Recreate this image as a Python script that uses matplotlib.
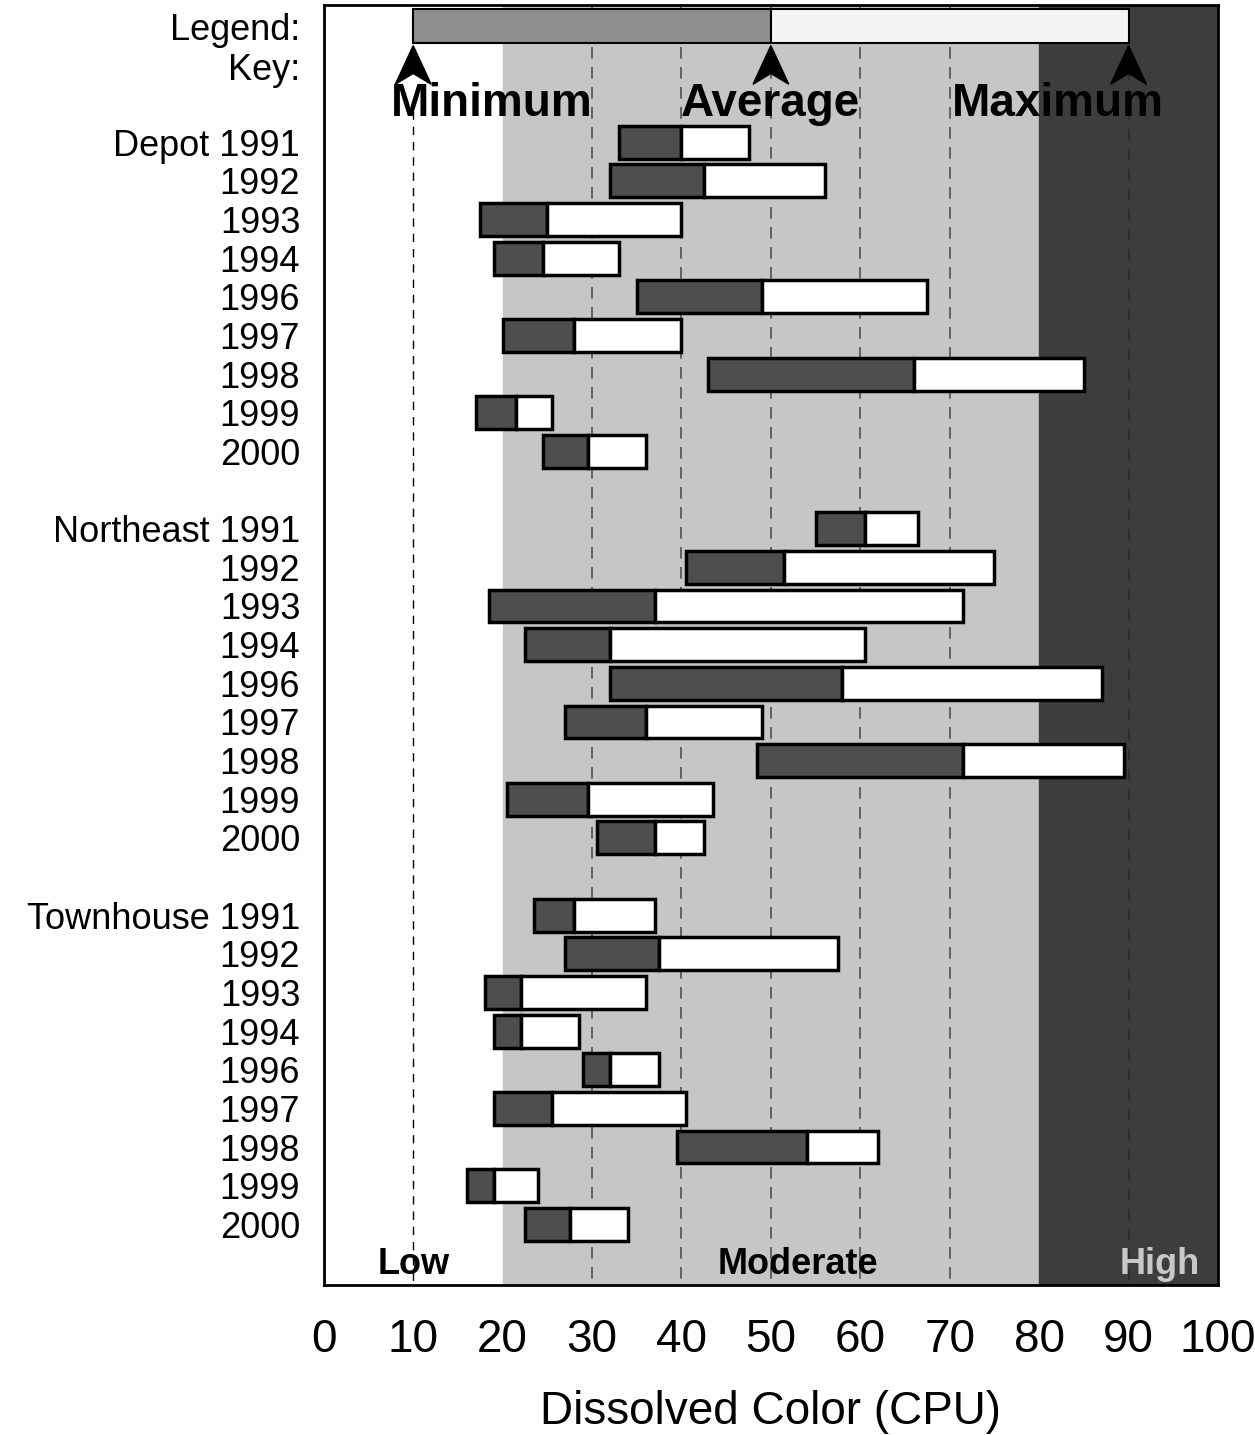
import numpy as np
import matplotlib.pyplot as plt
from matplotlib.patches import Polygon

plt.rcParams['font.family'] = ['Liberation Sans', 'DejaVu Sans']

# Dissolved colour (CPU) by site and year: minimum, average, maximum
sites = ["Depot", "Northeast", "Townhouse"]
years = ["1991", "1992", "1993", "1994", "1996", "1997", "1998", "1999", "2000"]

depot_min = [33, 32, 17.5, 19, 35, 20, 43, 17, 24.5]
depot_avg = [40, 42.5, 25, 24.5, 49, 28, 66, 21.5, 29.5]
depot_max = [47.5, 56, 40, 33, 67.5, 40, 85, 25.5, 36]

northeast_min = [55, 40.5, 18.5, 22.5, 32, 27, 48.5, 20.5, 30.5]
northeast_avg = [60.5, 51.5, 37, 32, 58, 36, 71.5, 29.5, 37]
northeast_max = [66.5, 75, 71.5, 60.5, 87, 49, 89.5, 43.5, 42.5]

townhouse_min = [23.5, 27, 18, 19, 29, 19, 39.5, 16, 22.5]
townhouse_avg = [28, 37.5, 22, 22, 32, 25.5, 54, 19, 27.5]
townhouse_max = [37, 57.5, 36, 28.5, 37.5, 40.5, 62, 24, 34]

# legend bar
key_min, key_avg, key_max = 10, 50, 90

zones = [(0, 20, "Low"), (20, 80, "Moderate"), (80, 100, "High")]

mins = [depot_min, northeast_min, townhouse_min]
avgs = [depot_avg, northeast_avg, townhouse_avg]
maxs = [depot_max, northeast_max, townhouse_max]

fig = plt.figure(figsize=(12.55, 14.35), dpi=100)
ax = fig.add_axes([0.258, 0.1045, 0.7125, 0.892])

# background zones
zone_colors = ["white", "#c6c6c6", "#3d3d3d"]
for (a, b, name), c in zip(zones, zone_colors):
    ax.axvspan(a, b, color=c, zorder=0)

ax.vlines(10, -0.8, 29.6, colors="black", lw=1, linestyles=(0, (6, 5)), zorder=1)
ax.vlines([30, 40, 50, 60, 70], -3.5, 29.6, colors="#505050", lw=1.2,
          linestyles=(0, (7, 5)), zorder=1)
ax.vlines(90, -2.4, 29.6, colors="#2a2a2a", lw=1.2, linestyles=(0, (7, 5)), zorder=1)

dark = "#4e4e4e"
h = 0.85
ypos, ylabels = [], []
for g, site in enumerate(sites):
    y = np.arange(len(years)) + g * 10
    lo, av, hi = np.array(mins[g]), np.array(avgs[g]), np.array(maxs[g])
    ax.barh(y, av - lo, left=lo, height=h, color=dark, edgecolor="black", lw=2.5, zorder=3)
    ax.barh(y, hi - av, left=av, height=h, color="white", edgecolor="black", lw=2.5, zorder=3)
    ypos += list(y)
    ylabels += [site + " " + years[0]] + years[1:]

# legend / key
ax.barh(-3, key_avg - key_min, left=key_min, height=0.88, color="#8e8e8e",
        edgecolor="black", lw=1.5, zorder=3)
ax.barh(-3, key_max - key_avg, left=key_avg, height=0.88, color="#f4f4f4",
        edgecolor="black", lw=1.5, zorder=3)
for x in (key_min, key_avg, key_max):
    head = [(x, -2.5), (x - 2.0, -1.5), (x, -1.78), (x + 2.0, -1.5)]
    ax.add_patch(Polygon(head, closed=True, color="black", zorder=4))
ax.text(key_min - 2.5, -0.98, "Minimum", ha="left", va="center", fontsize=33,
        fontweight="bold", zorder=5)
ax.text(key_avg, -0.98, "Average", ha="center", va="center", fontsize=33,
        fontweight="bold", zorder=5)
ax.text(key_max + 4, -0.98, "Maximum", ha="right", va="center", fontsize=33,
        fontweight="bold", zorder=5)

# zone names along the bottom
ax.text(10, 29.5, "Low", ha="center", va="bottom", fontsize=26, fontweight="bold", zorder=5)
ax.text(53, 29.5, "Moderate", ha="center", va="bottom", fontsize=26, fontweight="bold", zorder=5)
ax.text(93.5, 29.5, "High", ha="center", va="bottom", fontsize=26, fontweight="bold",
        color="#c8c8c8", zorder=5)

ax.set_xlim(0, 100)
ax.set_ylim(29.57, -3.55)
ax.set_xticks(np.arange(0, 101, 10))
ax.set_yticks([-3, -1.95] + ypos)
ax.set_yticklabels(["Legend:", "Key:"] + ylabels)
ax.tick_params(axis="y", length=0, pad=17, labelsize=26)
ax.tick_params(axis="x", length=0, pad=24, labelsize=33)
ax.set_xlabel("Dissolved Color (CPU)", fontsize=33, labelpad=20)
for s in ax.spines.values():
    s.set_linewidth(2)

fig.savefig("out.png", dpi=100)
